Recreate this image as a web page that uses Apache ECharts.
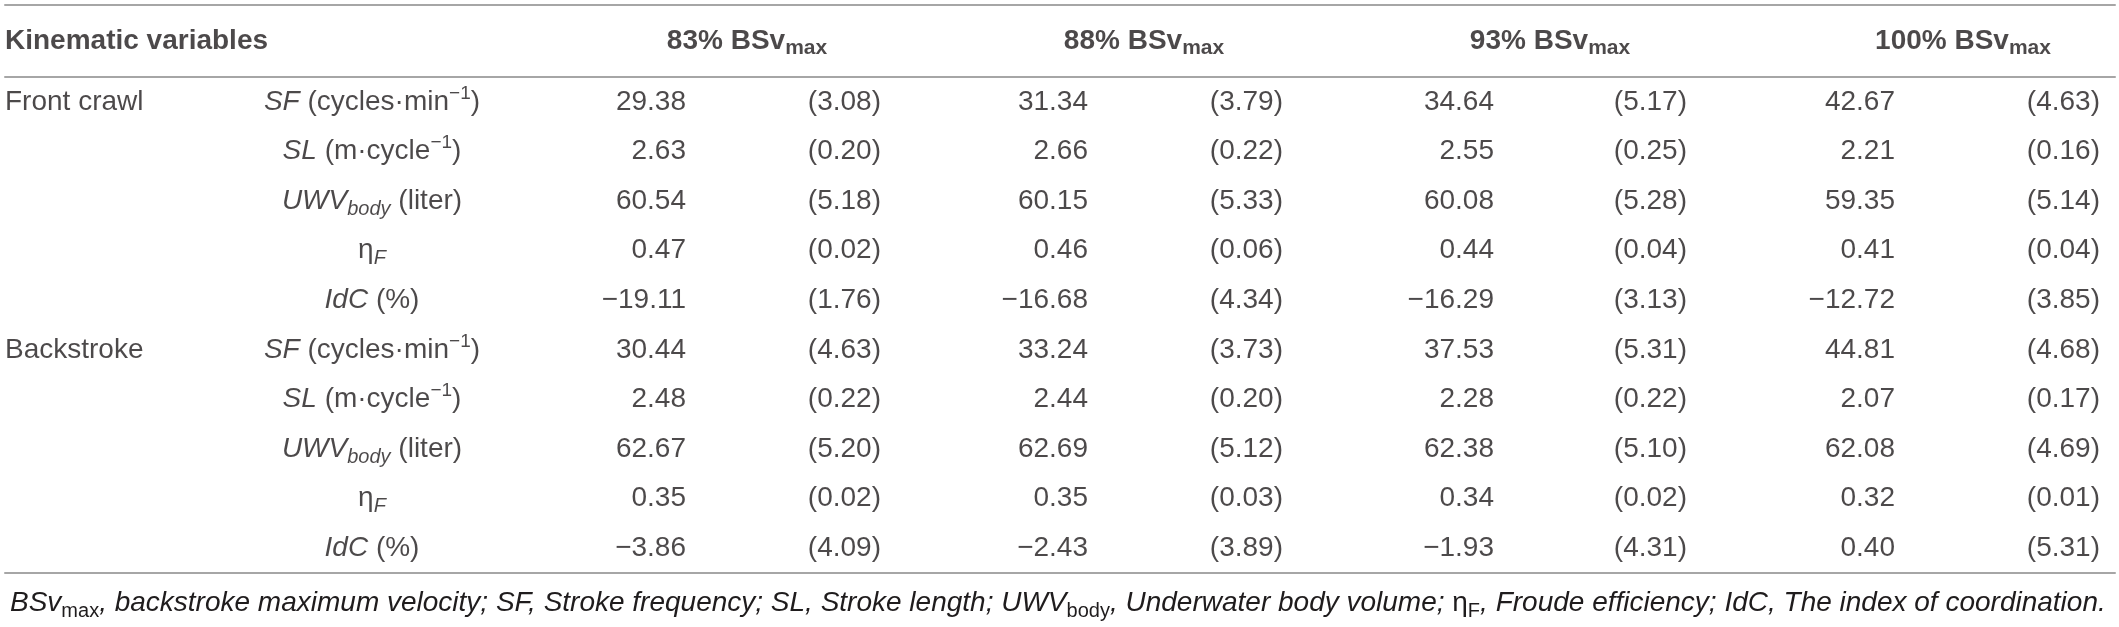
<!DOCTYPE html>
<html>
<head>
<meta charset="utf-8">
<script src="https://cdn.jsdelivr.net/npm/echarts@6.0.0/dist/echarts.min.js"></script>
<style>
html, body { margin: 0; padding: 0; background: #fff; }
#main { width: 2119px; height: 627px; }
</style>
</head>
<body>
<div id="main"></div>
<script>
// table content
var groups = ['Front crawl', '', '', '', '', 'Backstroke', '', '', '', ''];
var variables = ['SF', 'SL', 'UWV', 'eta', 'IdC', 'SF', 'SL', 'UWV', 'eta', 'IdC'];
var speeds = ['83%', '88%', '93%', '100%'];

var mean83 = [29.38, 2.63, 60.54, 0.47, -19.11, 30.44, 2.48, 62.67, 0.35, -3.86];
var sd83 = [3.08, 0.20, 5.18, 0.02, 1.76, 4.63, 0.22, 5.20, 0.02, 4.09];
var mean88 = [31.34, 2.66, 60.15, 0.46, -16.68, 33.24, 2.44, 62.69, 0.35, -2.43];
var sd88 = [3.79, 0.22, 5.33, 0.06, 4.34, 3.73, 0.20, 5.12, 0.03, 3.89];
var mean93 = [34.64, 2.55, 60.08, 0.44, -16.29, 37.53, 2.28, 62.38, 0.34, -1.93];
var sd93 = [5.17, 0.25, 5.28, 0.04, 3.13, 5.31, 0.22, 5.10, 0.02, 4.31];
var mean100 = [42.67, 2.21, 59.35, 0.41, -12.72, 44.81, 2.07, 62.08, 0.32, 0.40];
var sd100 = [4.63, 0.16, 5.14, 0.04, 3.85, 4.68, 0.17, 4.69, 0.01, 5.31];

var varText = {
    SF: '{it|SF}{n| (cycles·min}{sup|−1}{n|)}',
    SL: '{it|SL}{n| (m·cycle}{sup|−1}{n|)}',
    UWV: '{it|UWV}{isub|body}{n| (liter)}',
    eta: '{n|η}{isub|F}',
    IdC: '{it|IdC}{n| (%)}'
};

var FONT = '"Liberation Sans", Arial, sans-serif';
var INK = '#1f1c1d';
var RULE = '#a6a6a6';
var FS = 28;

var rich = {
    n: { fontSize: FS, lineHeight: 36, color: INK },
    it: { fontSize: FS, lineHeight: 36, color: INK, fontStyle: 'italic' },
    b: { fontSize: FS, lineHeight: 36, color: INK, fontWeight: 'bold' },
    sup: { fontSize: 19, lineHeight: 18, color: INK, verticalAlign: 'top' },
    isub: { fontSize: 20, lineHeight: 18, color: INK, fontStyle: 'italic', verticalAlign: 'bottom' },
    bsub: { fontSize: 21, lineHeight: 18, color: INK, fontWeight: 'bold', verticalAlign: 'bottom' },
    fi: { fontSize: FS, lineHeight: 36, color: INK, fontStyle: 'italic' },
    fsub: { fontSize: 20, lineHeight: 18, color: INK, verticalAlign: 'bottom' }
};

function fmt(v) {
    var s = Math.abs(v).toFixed(2);
    return v < 0 ? '−' + s : s;
}

// column positions (px)
var meanX = [686, 1088, 1494, 1895];
var sdX = [881, 1283, 1687, 2100];
var headX = [747, 1144, 1550, 1963];

function textSeries(grid, x, align, texts) {
    var data = [];
    for (var i = 0; i < texts.length; i++) {
        if (texts[i] === '') continue;
        data.push({ value: [x, i], name: texts[i] });
    }
    return {
        type: 'scatter',
        xAxisIndex: grid,
        yAxisIndex: grid,
        symbolSize: 0,
        silent: true,
        animation: false,
        data: data,
        label: {
            show: true,
            position: 'inside',
            align: align,
            verticalAlign: 'middle',
            fontFamily: FONT,
            fontSize: FS,
            color: INK,
            rich: rich,
            formatter: function (p) { return p.name; }
        }
    };
}

var series = [];
// header row
series.push(textSeries(0, 5, 'left', ['{b|Kinematic variables}']));
for (var k = 0; k < speeds.length; k++) {
    var h = ['{b|' + speeds[k] + ' BSv}{bsub|max}'];
    series.push(textSeries(0, headX[k], 'center', h));
}
// body
series.push(textSeries(1, 5, 'left', groups.map(function (g) { return g === '' ? '' : '{n|' + g + '}'; })));
series.push(textSeries(1, 372, 'center', variables.map(function (v) { return varText[v]; })));
var means = [mean83, mean88, mean93, mean100];
var sds = [sd83, sd88, sd93, sd100];
for (var c = 0; c < 4; c++) {
    series.push(textSeries(1, meanX[c], 'right', means[c].map(function (v) { return '{n|' + fmt(v) + '}'; })));
    series.push(textSeries(1, sdX[c], 'right', sds[c].map(function (v) { return '{n|(' + v.toFixed(2) + ')}'; })));
}

var hiddenY = {
    type: 'category',
    inverse: true,
    axisLine: { show: false },
    axisTick: { show: false },
    axisLabel: { show: false },
    splitLine: { show: false }
};
function ruleX(grid, pos, showLine) {
    return {
        type: 'value',
        gridIndex: grid,
        position: pos,
        min: 5,
        max: 2115,
        axisLine: { show: showLine, onZero: false, lineStyle: { color: RULE, width: 2 } },
        axisTick: { show: false },
        axisLabel: { show: false },
        splitLine: { show: false }
    };
}

var chart = echarts.init(document.getElementById('main'));
var option = {
    backgroundColor: '#fff',
    grid: [
        { left: 5, width: 2110, top: 5, height: 72 },
        { left: 5, width: 2110, top: 77, height: 496 }
    ],
    xAxis: [
        ruleX(0, 'top', true),
        ruleX(1, 'bottom', true),
        ruleX(0, 'bottom', true)
    ],
    yAxis: [
        Object.assign({ gridIndex: 0, data: ['h'] }, hiddenY),
        Object.assign({ gridIndex: 1, data: groups.map(function (g, i) { return 'r' + i; }) }, hiddenY)
    ],
    title: {
        left: 5,
        top: 580,
        text: '{fi|BSv}{fsub|max}{fi|, backstroke maximum velocity; SF, Stroke frequency; SL, Stroke length; UWV}{fsub|body}{fi|, Underwater body volume; }{n|η}{fsub|F}{fi|, Froude efficiency; IdC, The index of coordination.}',
        textStyle: { fontFamily: FONT, fontSize: FS, color: INK, fontWeight: 'normal', rich: rich }
    },
    series: series
};
chart.setOption(option);
</script>
</body>
</html>
